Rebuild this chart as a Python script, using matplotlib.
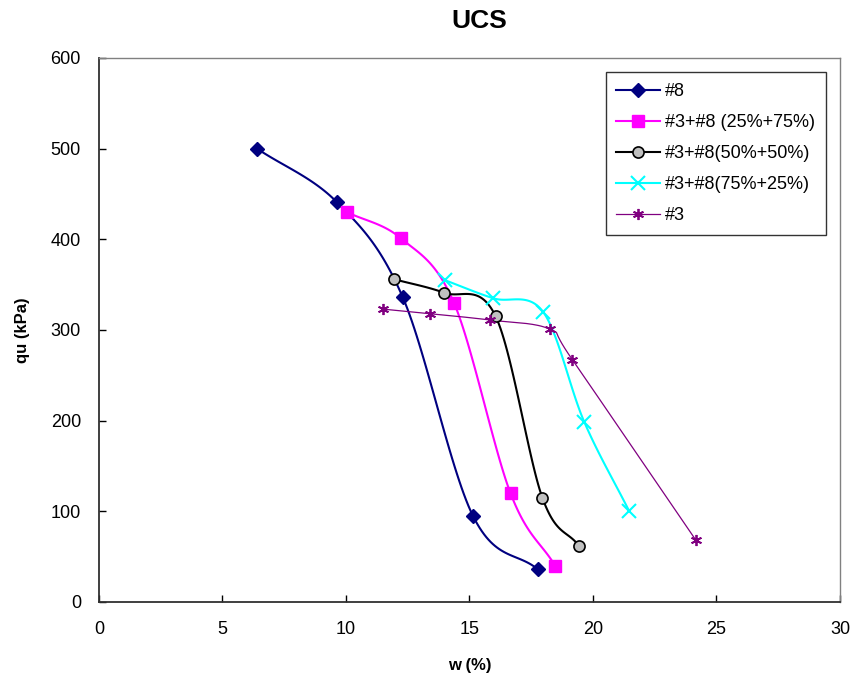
import numpy as np
import matplotlib
matplotlib.use("Agg")
import matplotlib.pyplot as plt

plt.rcParams['font.family'] = ['Liberation Sans', 'DejaVu Sans']

# Data
w_8 = [6.4, 9.63, 12.3, 15.14, 17.77]
qu_8 = [500, 441, 336, 95, 36]

w_25_75 = [10.04, 12.23, 14.37, 16.66, 18.47]
qu_25_75 = [430, 401, 330, 120, 40]

w_50_50 = [11.95, 13.98, 16.06, 17.95, 19.43]
qu_50_50 = [356, 341, 315, 115, 62]

w_75_25 = [14.0, 15.96, 17.98, 19.64, 21.47]
qu_75_25 = [355, 335, 320, 199, 100]

w_3 = [11.51, 13.4, 15.83, 18.24, 19.17, 24.17]
qu_3 = [323, 318, 311, 301, 267, 68]

labels = ["#8", "#3+#8 (25%+75%)", "#3+#8(50%+50%)", "#3+#8(75%+25%)", "#3"]


def smooth(x, y, n=30):
    # Catmull-Rom spline through the data points (Excel-like smoothed line)
    x = np.asarray(x, float); y = np.asarray(y, float)
    P = np.column_stack([x, y])
    P = np.vstack([2 * P[0] - P[1], P, 2 * P[-1] - P[-2]])
    out = []
    for i in range(1, len(P) - 2):
        p0, p1, p2, p3 = P[i - 1], P[i], P[i + 1], P[i + 2]
        t = np.linspace(0, 1, n, endpoint=False)[:, None]
        seg = 0.5 * ((2 * p1) + (-p0 + p2) * t + (2 * p0 - 5 * p1 + 4 * p2 - p3) * t ** 2
                     + (-p0 + 3 * p1 - 3 * p2 + p3) * t ** 3)
        out.append(seg)
    out.append(P[-2][None, :])
    out = np.vstack(out)
    return out[:, 0], out[:, 1]


fig = plt.figure(figsize=(8.52, 6.79), dpi=100)
ax = fig.add_axes([99 / 852, 1 - 602 / 679, (840 - 99) / 852, (602 - 58) / 679])

series = [
    (w_8, qu_8, dict(color='#000080', lw=1.5), dict(marker='D', ms=7, mfc='#000080', mec='#000080')),
    (w_25_75, qu_25_75, dict(color='#FF00FF', lw=1.5), dict(marker='s', ms=8, mfc='#FF00FF', mec='#FF00FF')),
    (w_50_50, qu_50_50, dict(color='#000000', lw=1.5), dict(marker='o', ms=8, mfc='#C0C0C0', mec='#000000', mew=1.2)),
    (w_75_25, qu_75_25, dict(color='#00FFFF', lw=1.5), dict(marker='x', ms=10, mfc='#00FFFF', mec='#00FFFF', mew=1.5)),
    (w_3, qu_3, dict(color='#800080', lw=0.9), dict(marker=(6, 2, 0), ms=8, mfc='#800080', mec='#800080', mew=1.3)),
]

for (x, y, lsty, msty), lab in zip(series, labels):
    sx, sy = smooth(x, y)
    ax.plot(sx, sy, **lsty, zorder=2)
    ax.plot(x, y, ls='none', zorder=3, **msty)
    ax.plot([], [], label=lab, **lsty, **msty)

ax.set_xlim(0, 30)
ax.set_ylim(0, 600)
ax.set_xticks(range(0, 31, 5))
ax.set_yticks(range(0, 601, 100))
ax.tick_params(direction='in', length=5, width=1, labelsize=13, colors='#000000')
ax.tick_params(axis='x', pad=14)
ax.tick_params(axis='y', pad=13)

for s in ['top', 'right']:
    ax.spines[s].set_color('#808080')
    ax.spines[s].set_linewidth(1.0)
for s in ['left', 'bottom']:
    ax.spines[s].set_color('#303030')
    ax.spines[s].set_linewidth(1.3)

ax.set_xlabel("w (%)", fontsize=12, fontweight='bold', labelpad=14)
ax.set_ylabel("qu (kPa)", fontsize=12, fontweight='bold', labelpad=15)
fig.text(479 / 852, 1 - 21 / 679, "UCS", ha='center', va='center', fontsize=19, fontweight='bold')

leg = ax.legend(loc='upper right', bbox_to_anchor=(727 / 741, 1 - 14 / 544), fontsize=13,
                frameon=True, fancybox=False, edgecolor='#000000', borderpad=0.6,
                labelspacing=0.78, handlelength=2.4, handletextpad=0.3, borderaxespad=0)
leg.get_frame().set_linewidth(1.0)

fig.savefig("out.png", dpi=100)
